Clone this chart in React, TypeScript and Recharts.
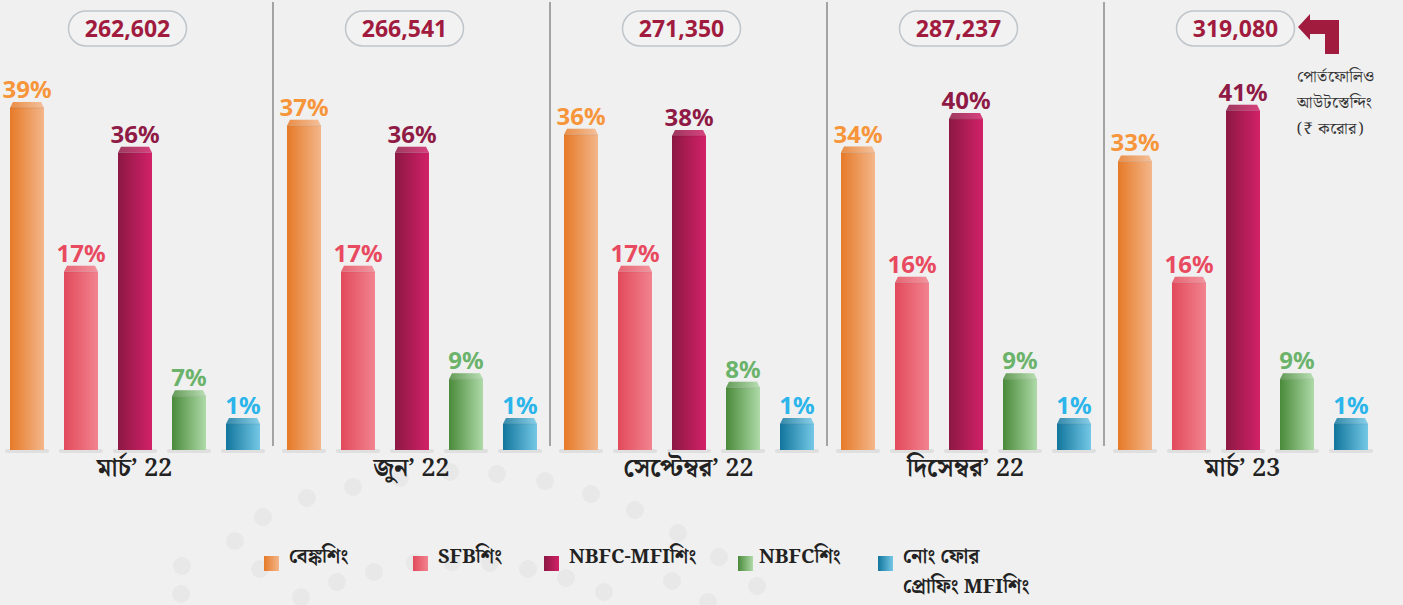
import React from "react";
import { BarChart, Bar, XAxis, YAxis, LabelList, Legend } from "recharts";

// quarter labels and portfolio outstanding (₹ crore)
const months = ["মার্চ’ 22", "জুন’ 22", "সেপ্টেম্বর’ 22", "দিসেম্বর’ 22", "মার্চ’ 23"];
const totals = ["262,602", "266,541", "271,350", "287,237", "319,080"];

// share of portfolio by lender type (%)
const banking = [39, 37, 36, 34, 33];
const sfb = [17, 17, 17, 16, 16];
const nbfcMfi = [36, 36, 38, 40, 41];
const nbfc = [7, 9, 8, 9, 9];
const notForProfit = [1, 1, 1, 1, 1];

const data = months.map((month, i) => ({
  month,
  total: totals[i],
  banking: banking[i],
  sfb: sfb[i],
  nbfcMfi: nbfcMfi[i],
  nbfc: nbfc[i],
  nfp: notForProfit[i],
}));

// the infographic scales every series on its own, so each gets a hidden axis
const series = [
  { key: "banking", name: "বেঙ্কশিং", from: "#E67A28", to: "#F3B68A", label: "#F7953A", max: 43.7 },
  { key: "sfb", name: "SFBশিং", from: "#E24A5B", to: "#F2838F", label: "#E84A5F", max: 36 },
  { key: "nbfcMfi", name: "NBFC-MFIশিং", from: "#8C1843", to: "#D22168", label: "#8E1A45", max: 46.3 },
  { key: "nbfc", name: "NBFCশিং", from: "#4A8A3A", to: "#AEDAA8", label: "#6BB36A", max: 45.7 },
  { key: "nfp", name: "নোং ফোর|প্রোফিং MFIশিং", from: "#12759C", to: "#74C8E6", label: "#2BB5EA", max: 12.2 },
];

const bnFont = "'Noto Serif Bengali', 'Noto Sans Bengali', 'Lohit Bengali', 'Liberation Serif', serif";
const numFont = "'Noto Sans', 'Open Sans', sans-serif";

// faint background dots of the original artwork
const dots = [
  [182, 566], [181, 594], [235, 541], [263, 517], [260, 569], [301, 597], [337, 582], [374, 572],
  [307, 498], [353, 487], [400, 478], [450, 472], [497, 474], [545, 481], [591, 494], [635, 510],
  [678, 533], [719, 557], [757, 586], [415, 563], [452, 562], [490, 563], [528, 569], [566, 578],
  [604, 592], [672, 581], [708, 602],
];

const BevelBar = (props: any) => {
  const { x, y, width, height, gid } = props;
  if (!height || height <= 0) return null;
  const b = Math.min(6, height);
  const top = `M${x},${y + b} L${x + 3},${y} L${x + width - 3},${y} L${x + width},${y + b} Z`;
  return (
    <g>
      <rect x={x - 5} y={y + height - 1} width={width + 10} height={4} rx={2} fill="#000" opacity={0.07} />
      <rect x={x} y={y + b} width={width} height={height - b} fill={`url(#${gid})`} />
      <path d={top} fill={`url(#${gid})`} />
      <path d={top} fill="#fff" opacity={0.15} />
      <line x1={x} x2={x + width} y1={y + b} y2={y + b} stroke="#000" strokeOpacity={0.08} />
    </g>
  );
};

const PillTick = (props: any) => {
  const { x, payload } = props;
  const cx = x - 7;
  return (
    <g>
      <rect x={cx - 59} y={11} width={118} height={35} rx={17.5} fill="#F2F2F2" stroke="#BFC5CA" strokeWidth={1.5} />
      <text x={cx} y={37} textAnchor="middle" fill="#A11B3F" fontSize={23} fontWeight={700} fontFamily={numFont}>
        {payload.value}
      </text>
    </g>
  );
};

const MonthTick = (props: any) => {
  const { x, y, payload, index } = props;
  const half = payload.offset || 138.5;
  return (
    <g>
      {index < months.length - 1 && (
        <line x1={x + half} x2={x + half} y1={2} y2={446} stroke="#8A8A8A" strokeWidth={1.5} />
      )}
      <text x={x} y={y + 18} textAnchor="middle" fill="#222" fontSize={25} fontWeight={700} fontFamily={bnFont}>
        {payload.value}
      </text>
    </g>
  );
};

const legendWidths = [149, 131, 194, 140, 200];

const LegendContent = () => (
  <div style={{ height: 60, position: "relative" }}>
    <div style={{ position: "absolute", top: -2, left: 268, display: "flex", alignItems: "flex-start", fontFamily: bnFont, fontWeight: 700, fontSize: 20, color: "#222", lineHeight: "28px" }}>
      {series.map((s, i) => (
        <div key={s.key} style={{ display: "flex", alignItems: "flex-start", width: legendWidths[i] }}>
          <span style={{ width: 15, height: 15, flex: "none", marginTop: 13, marginRight: i === 3 ? 6 : 10, background: `linear-gradient(to right, ${s.from}, ${s.to})` }} />
          <span>
            {s.name.split("|").map((line, j) => (
              <div key={line} style={{ whiteSpace: "nowrap", marginTop: j ? 2 : 0 }}>{line}</div>
            ))}
          </span>
        </div>
      ))}
    </div>
  </div>
);

export default function App() {
  return (
    <div style={{ position: "absolute", left: 0, top: 0, width: 1403, height: 605, background: "#F0F0F0", overflow: "hidden" }}>
      <svg style={{ position: "absolute", left: 0, top: 0 }} width={1403} height={605}>
        {dots.map(([cx, cy], i) => (
          <circle key={i} cx={cx} cy={cy} r={9} fill="#E8E8E8" />
        ))}
      </svg>
      <div style={{ position: "absolute", left: -4, top: 0 }}>
        <BarChart width={1390} height={605} data={data} margin={{ top: 0, right: 5, bottom: 0, left: 0 }} barSize={34} barGap={20}>
          <defs>
            {series.map((s) => (
              <linearGradient key={s.key} id={`g-${s.key}`} x1="0" y1="0" x2="1" y2="0">
                <stop offset="0%" stopColor={s.from} />
                <stop offset="100%" stopColor={s.to} />
              </linearGradient>
            ))}
          </defs>
          <XAxis xAxisId="top" orientation="top" dataKey="total" height={60} axisLine={false} tickLine={false} tick={<PillTick />} />
          <XAxis dataKey="month" height={95} axisLine={false} tickLine={false} tick={<MonthTick />} interval={0} />
          {series.map((s) => (
            <YAxis key={s.key} yAxisId={s.key} hide domain={[0, s.max]} />
          ))}
          {series.map((s) => (
            <Bar
              key={s.key}
              dataKey={s.key}
              name={s.name}
              yAxisId={s.key}
              isAnimationActive={false}
              shape={(p: any) => <BevelBar {...p} gid={`g-${s.key}`} />}
            >
              <LabelList
                dataKey={s.key}
                position="top"
                offset={4}
                formatter={(v: any) => `${v}%`}
                fill={s.label}
                fontSize={24}
                fontWeight={700}
                fontFamily={numFont}
              />
            </Bar>
          ))}
          <Legend verticalAlign="bottom" content={<LegendContent />} wrapperStyle={{ left: 0, width: 1390, bottom: 0, height: 60 }} />
        </BarChart>
      </div>
      <svg style={{ position: "absolute", left: 0, top: 0 }} width={1403} height={70}>
        <path d="M1298,27 L1310,14 L1310,20 L1339,20 L1339,54 L1325,54 L1325,34 L1310,34 L1310,40 Z" fill="#A11B3F" />
      </svg>
      <div style={{ position: "absolute", left: 1297, top: 65, fontFamily: bnFont, fontSize: 16, letterSpacing: "0.6px", lineHeight: "26px", color: "#333" }}>
        <div>পোর্তফোলিও</div>
        <div>আউটস্তেন্দিং</div>
        <div>(₹ করোর)</div>
      </div>
    </div>
  );
}
